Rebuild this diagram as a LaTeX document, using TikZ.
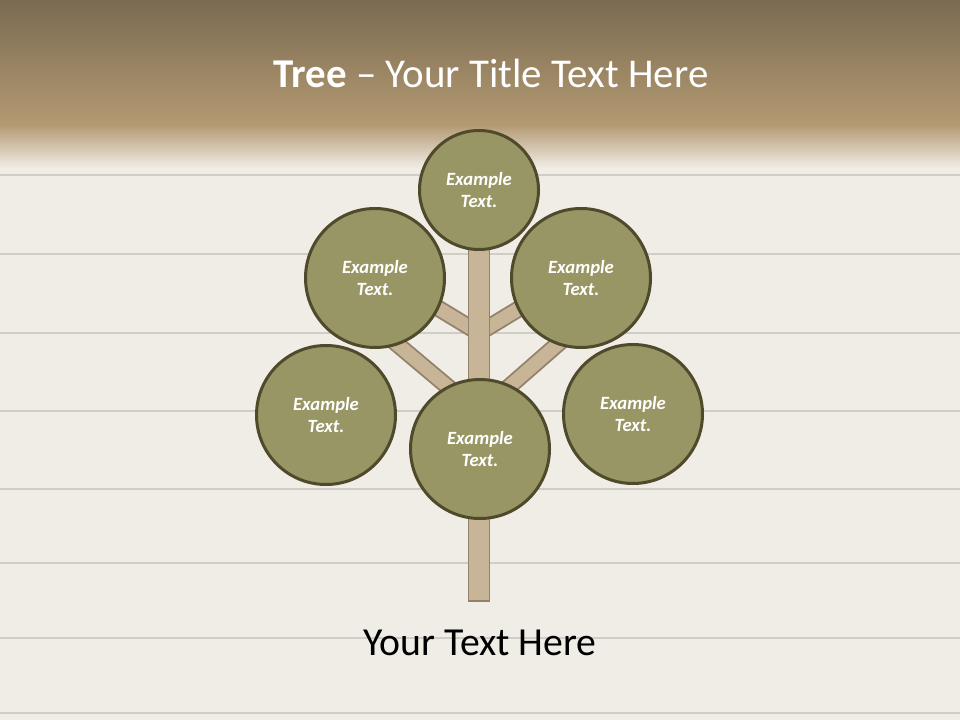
\documentclass[tikz,border=0pt]{standalone}
\usepackage{fontspec}
\setmainfont{Carlito}

\definecolor{leaffill}{RGB}{152,150,100}
\definecolor{leafedge}{RGB}{79,74,44}
\definecolor{bark}{RGB}{200,181,151}
\definecolor{barkedge}{RGB}{146,130,108}
\definecolor{wood}{RGB}{240,237,230}
\definecolor{plank}{RGB}{208,205,198}

\begin{document}
\begin{tikzpicture}[x=0.75pt,y=-0.75pt,
    leaf/.style={circle,draw=leafedge,fill=leaffill,line width=2.25pt,minimum size=104.25pt,inner sep=0pt,
        text=white,align=center,font=\fontsize{14}{16.5}\selectfont\bfseries\itshape},
    branch/.style={draw=barkedge,double=bark,double distance=10pt,line width=1.4pt}]
    \useasboundingbox (0,0) rectangle (960,720);
    \fill[wood] (0,0) rectangle (960,720); % planks
    \shade[top color={rgb,255:red,122;green,107;blue,81},bottom color={rgb,255:red,180;green,154;blue,114}] (0,0) rectangle (960,126); % top band
    \shade[top color={rgb,255:red,180;green,154;blue,114},middle color={rgb,255:red,224;green,214;blue,198},bottom color=wood] (0,125) rectangle (960,168);
    \foreach \y in {175,254,333,411,489,563,638,713}
        \draw[plank,line width=1.5pt] (0,\y) -- (960,\y); % plank joints

    \coordinate (top) at (479,190);
    \coordinate (upleft) at (375,278);
    \coordinate (upright) at (581,278);
    \coordinate (lowleft) at (326,415);
    \coordinate (lowright) at (633,414);
    \coordinate (mid) at (480,449);
    \coordinate (forkhigh) at (479,333);
    \coordinate (forklow) at (479,413);

    \draw[branch] (forkhigh) -- (418,296); % upper branches
    \draw[branch] (forkhigh) -- (540,296);
    \draw[branch] (forklow) -- (385,334); % lower branches
    \draw[branch] (forklow) -- (575,329);
    \filldraw[fill=bark,draw=barkedge,line width=1.4pt] (468.5,240) rectangle (489.5,601); % trunk

    \node[leaf,minimum size=89.25pt] (leafT) at (top) {Example\\Text.};
    \node[leaf] (leafUL) at (upleft) {Example\\Text.};
    \node[leaf] (leafUR) at (upright) {Example\\Text.};
    \node[leaf] (leafLL) at (lowleft) {Example\\Text.};
    \node[leaf] (leafLR) at (lowright) {Example\\Text.};
    \node[leaf] (leafM) at (mid) {Example\\Text.};

    \node[anchor=base,text=white,font=\fontsize{30.7}{37}\selectfont] (title) at (491,88) {\textbf{Tree} – Your Title Text Here};
    \node[anchor=base,font=\fontsize{29.8}{36}\selectfont] (caption) at (480,655) {Your Text Here};
\end{tikzpicture}
\end{document}
